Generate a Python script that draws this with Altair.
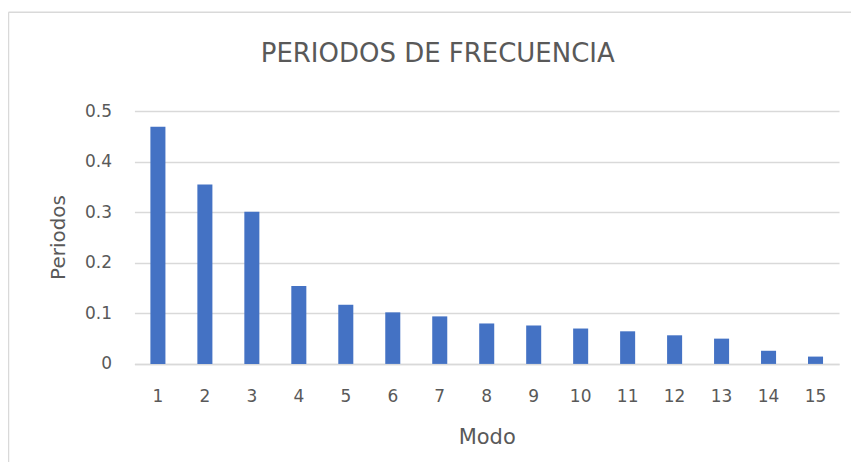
import altair as alt
import pandas as pd

modos = [str(i) for i in range(1, 16)]
periodos = [0.469, 0.355, 0.301, 0.154, 0.117, 0.102, 0.094, 0.080, 0.076, 0.070, 0.0645, 0.0566, 0.050, 0.026, 0.0145]
y_ticks = [0, 0.1, 0.2, 0.3, 0.4, 0.5]
chart_title = "PERIODOS DE FRECUENCIA"

df = pd.DataFrame({"Modo": modos, "Periodos": periodos})

FONT = "DejaVu Sans"
GREY = "#595959"
W, H = 705, 253

bars = alt.Chart(df).mark_bar(color="#4472C4").encode(
    x=alt.X("Modo:N", sort=modos,
            scale=alt.Scale(paddingInner=0.68, paddingOuter=0.34),
            axis=alt.Axis(title="Modo", labelAngle=0, ticks=False, domain=True,
                          domainColor="#d9d9d9", domainWidth=1.5,
                          labelPadding=25, labelFontSize=17, labelColor=GREY, labelFont=FONT,
                          titleFontSize=21, titleColor=GREY, titleFont=FONT, titleFontWeight="normal",
                          titleY=74, titleBaseline="middle")),
    y=alt.Y("Periodos:Q", scale=alt.Scale(domain=[0, 0.5], nice=False),
            axis=alt.Axis(title="Periodos", values=y_ticks, format=".1~f", ticks=False, domain=False,
                          grid=True, gridColor="#d9d9d9", gridWidth=1.5,
                          labelPadding=23, labelFontSize=17, labelColor=GREY, labelFont=FONT,
                          titleFontSize=20, titleColor=GREY, titleFont=FONT, titleFontWeight="normal",
                          titleX=-76, titleY=126, titleAngle=-90, titleAlign="center",
                          titleBaseline="middle")),
)

one = pd.DataFrame({"t": [chart_title]})

frame_top = alt.Chart(one).mark_rule(color="#d9d9d9", strokeWidth=1.5, clip=False).encode(
    x=alt.value(-126), x2=alt.value(W + 30), y=alt.value(-99)
)
frame_left = alt.Chart(one).mark_rule(color="#d9d9d9", strokeWidth=1.5, clip=False).encode(
    x=alt.value(-126), y=alt.value(-99), y2=alt.value(H + 200)
)

title = alt.Chart(one).mark_text(
    font=FONT, fontSize=26, color=GREY, align="center", baseline="alphabetic", clip=False
).encode(text="t:N", x=alt.value(303.5), y=alt.value(-49))

chart = alt.layer(frame_top, frame_left, bars, title).properties(
    width=W, height=H,
    autosize=alt.AutoSizeParams(type="none"),
    padding={"left": 126.5, "top": 103, "right": 12, "bottom": 98},
).configure_view(stroke=None)

chart.save("out.html", embed_options={"renderer": "svg", "actions": False})
